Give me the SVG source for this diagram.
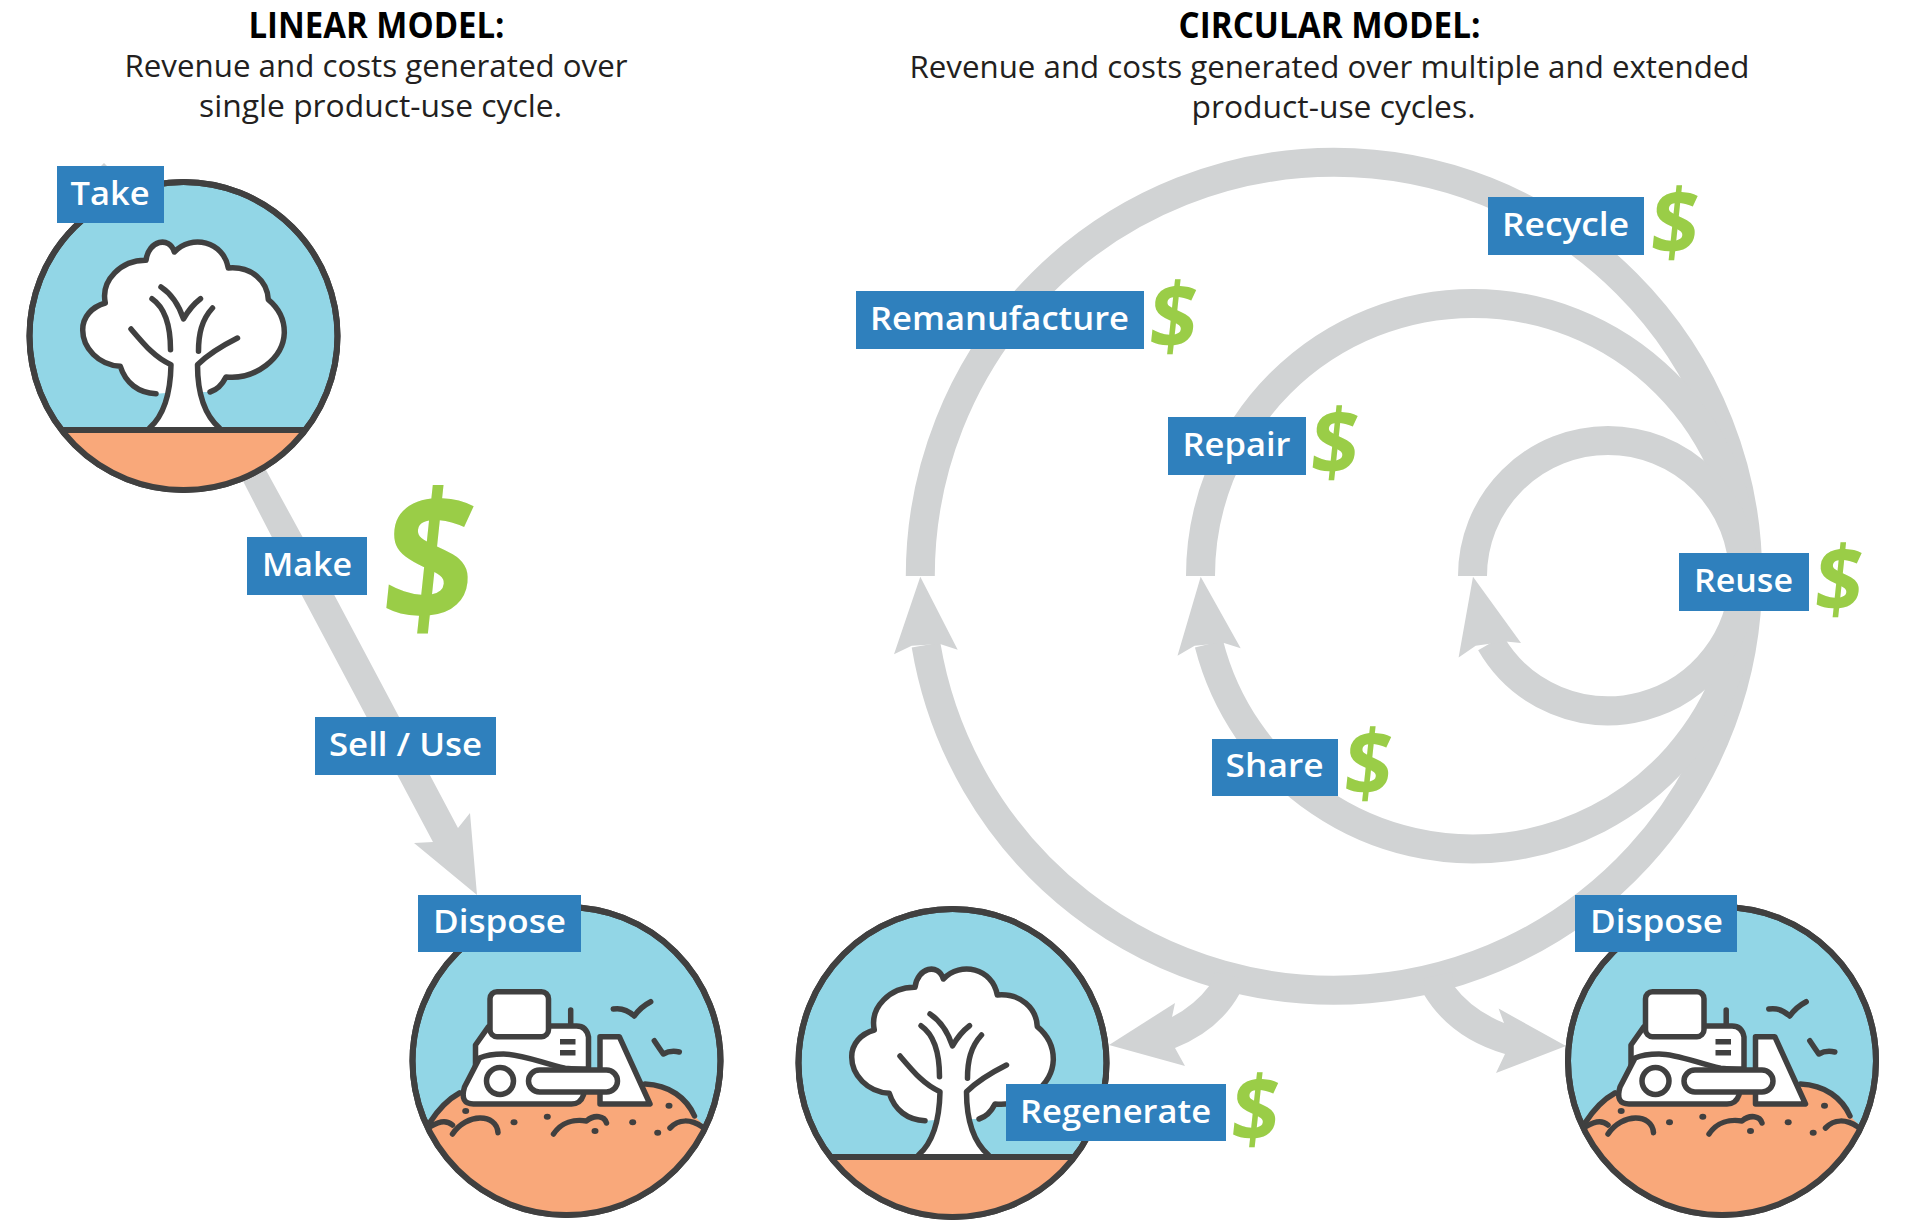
<svg xmlns="http://www.w3.org/2000/svg" xmlns:xlink="http://www.w3.org/1999/xlink" width="1920" height="1223" viewBox="0 0 1920 1223">
<style>
text{font-family:"Open Sans","Noto Sans","Liberation Sans",sans-serif}
.title{font-size:35px;font-weight:700;fill:#000;text-anchor:start}
.sub{font-size:31px;font-weight:400;fill:#231f20}
.box{fill:#2f80bd}
.lab{font-size:33px;font-weight:600;fill:#fff}
.usd{font-weight:700;fill:#9acd47;text-anchor:middle}
.usd-s{font-size:92px}
.usd-l{font-size:182px}
.ring{fill:#92d6e6;stroke:#404040;stroke-width:6}
.ln{fill:none;stroke:#404040;stroke-width:5.5;stroke-linecap:round;stroke-linejoin:round}
.wf{fill:#fff;stroke:#404040;stroke-width:5.5;stroke-linejoin:round;stroke-linecap:round}
.soil{fill:#f9a87a}
.dk{fill:#404040}
.arc{fill:none;stroke:#d1d3d4;stroke-width:29}
.hd{fill:#d1d3d4}
</style>
<defs>
<clipPath id="cc"><circle r="154"/></clipPath>
<g id="tree">
<circle class="ring" r="154"/>
<path class="soil" clip-path="url(#cc)" d="M-160 94H160V170H-160Z"/>
<path fill="#fff" d="M-27.5 57.7C-45 57-58 47-63.2 30.3C-85 29-101 12-100.8-6.3C-100.8-19-92-29-78.2-33C-83-56-62-76-37.5-75.7C-35-96-14-100-9.200-84C8-102 40-95 44.8-68C68-70 84-55 84.8-36.3C96-27 101-15 100.8-3C100 22 72 44 42.5 41C38 50 33 54 26.5 56L17 56Q22 80 36 92H-34Q-21 78-17.5 57Z"/>
<path class="ln" d="M-27.5 57.7C-45 57-58 47-63.2 30.3C-85 29-101 12-100.8-6.3C-100.8-19-92-29-78.2-33C-83-56-62-76-37.5-75.7C-35-96-14-100-9.2-84C8-102 40-95 44.8-68C68-70 84-55 84.8-36.3C96-27 101-15 100.8-3C100 22 72 44 42.500 41C38 50 33 54 26.5 56"/>
<path class="ln" d="M-52.5-7C-38 10-28 22-12.5 28.7C-13 55-18 78-34 92M54 2C38 10 25 18 14 28.7C14 55 20 78 36 92M-31.5-37.3C-18-28-13-8-13 13.7M29-28C18-16 15-2 15 15.3M-22.5-49C-12-42-5-32 0-17C5-26 10-32 17-37.3"/>
<path d="M-122 94H122" fill="none" stroke="#404040" stroke-width="6"/>
<circle r="154" fill="none" stroke="#404040" stroke-width="6"/>
</g>
<g id="dozer">
<circle class="ring" r="154"/>
<path class="soil" clip-path="url(#cc)" d="M-145 70C-133 50-120 38-107 32L78.5 23C103 24 120 37 128 55L145 72V170H-145Z"/>
<path class="ln" d="M-137 62C-128 48-118 38-107 32M78.5 23C103 24 120 37 128 55"/>
<path class="wf" d="M33.5-24.3H52.8L83.500 43H33.5Z"/>
<path class="ln" d="M4.2-51V-36"/>
<path class="wf" d="M-78-34.3L-91-16V8H22V-24Q20-35 10-35H-18Z"/>
<rect class="wf" x="-76.5" y="-69.3" width="58.5" height="45" rx="7"/>
<rect class="dk" x="-6.5" y="-22" width="15.5" height="5.5"/>
<rect class="dk" x="-6.5" y="-11" width="15.5" height="5.5"/>
<path class="wf" d="M-1.5 7.3C-25 2-45-7-63-7Q-78-7-87-3L-102 26Q-107 43-93 43H5Q14 43 17 34L20 9Z"/>
<circle class="wf" cx="-66.5" cy="20" r="13.5"/>
<rect class="wf" x="-38" y="9" width="89" height="22" rx="11"/>
<path class="ln" d="M-135 65Q-122 57-114 64M-114 73C-100 52-70 52-68.5 71.7M-13 73C-5 61 8 58 20 60C28 53 38 55 40 62M103.500 67C112 58 124 58 136 66"/>
<g class="dk"><ellipse cx="-100.8" cy="50" rx="3.5" ry="3"/><ellipse cx="-52.5" cy="61.3" rx="3.5" ry="3"/><ellipse cx="-19.2" cy="55.7" rx="3.5" ry="3"/><ellipse cx="28.5" cy="70" rx="3.5" ry="3"/><ellipse cx="66.2" cy="61.3" rx="3.5" ry="3"/><ellipse cx="91.2" cy="71.7" rx="3.5" ry="3"/><ellipse cx="102.5" cy="44.7" rx="3.5" ry="3"/></g>
<path class="ln" d="M46.8-52Q58-54 67.8-45Q74-54 84.2-59.3M87.8-20.3Q92-14 96.8-7Q104-11 112.8-9"/>
<circle r="154" fill="none" stroke="#404040" stroke-width="6"/>
</g>
</defs>

<g id="connectors">
<polygon class="hd" points="101,166 104,163 107,166"/>
<polygon class="hd" points="227,450 255,450 334.3,595 458,828 470,813 477,895 414,843 433,842 301.7,595"/>
<path class="arc" d="M920.3 576A413.7 413.7 0 0 1 1747.7 576"/>
<path class="arc" d="M1200.5 576A272.5 272.5 0 0 1 1745.5 576"/>
<path class="arc" d="M1472.500 576A135.5 135.5 0 0 1 1743.5 576"/>
<path class="arc" d="M1747.7 576A413.7 413.7 0 0 1 926 645"/>
<path class="arc" d="M1745.5 576A272.5 272.5 0 0 1 1209 644"/>
<path class="arc" d="M1743.5 576A135.5 135.5 0 0 1 1490.7 643"/>
<polygon class="hd" points="920.3,576.7 957.7,649.7 940,644 911.7,645.7 894,654.3"/>
<polygon class="hd" points="1200.7,576.7 1240.7,648.3 1224,643 1194.6,645.7 1177.5,655.7"/>
<polygon class="hd" points="1473,576.7 1521,643 1505.7,641.4 1475.7,645.7 1458.6,657.5"/>
<path class="hd" d="M1210 985L1215 972L1240 978L1240 993Q1220 1030 1175 1048L1185 1066L1109 1045L1175 1003L1172 1017Q1195 1005 1210 985Z"/>
<path class="hd" d="M1454 986L1452 972L1425 978L1423.6 994Q1450 1038 1505 1054L1496 1073L1566 1046L1498.6 1008.600L1504 1023Q1472 1010 1454 986Z"/>
</g>

<g id="title-linear">
<text class="title" x="248.5" y="38" textLength="256" lengthAdjust="spacingAndGlyphs">LINEAR MODEL:</text>
<text class="sub" x="124.5" y="77" textLength="503" lengthAdjust="spacingAndGlyphs">Revenue and costs generated over</text>
<text class="sub" x="199" y="117" textLength="363" lengthAdjust="spacingAndGlyphs">single product-use cycle.</text>
</g>
<g id="title-circular">
<text class="title" x="1178.5" y="38" textLength="302" lengthAdjust="spacingAndGlyphs">CIRCULAR MODEL:</text>
<text class="sub" x="909.5" y="78" textLength="840" lengthAdjust="spacingAndGlyphs">Revenue and costs generated over multiple and extended</text>
<text class="sub" x="1191.5" y="118" textLength="284" lengthAdjust="spacingAndGlyphs">product-use cycles.</text>
</g>

<g id="node-take"><use xlink:href="#tree" href="#tree" x="183.5" y="336"/><rect class="box" x="57" y="166" width="107" height="57"/><text class="lab" x="70.5" y="205" textLength="79" lengthAdjust="spacingAndGlyphs">Take</text></g>
<g id="node-make"><rect class="box" x="247" y="537" width="120" height="58"/><text class="lab" x="262" y="576" textLength="90" lengthAdjust="spacingAndGlyphs">Make</text><text class="usd usd-l" transform="translate(423.5 623) skewX(-6) scale(.88 1)">$</text></g>
<g id="node-sell-use"><rect class="box" x="315" y="717" width="181" height="58"/><text class="lab" x="329" y="756" textLength="153" lengthAdjust="spacingAndGlyphs">Sell / Use</text></g>
<g id="node-dispose-linear"><use xlink:href="#dozer" href="#dozer" x="566.5" y="1061"/><rect class="box" x="418" y="895" width="163" height="57"/><text class="lab" x="433" y="933" textLength="133" lengthAdjust="spacingAndGlyphs">Dispose</text></g>

<g id="node-recycle"><rect class="box" x="1488" y="197" width="156" height="58"/><text class="lab" x="1502" y="236" textLength="127" lengthAdjust="spacingAndGlyphs">Recycle</text><text class="usd usd-s" transform="translate(1672 254.5) skewX(-6) scale(.9 1)">$</text></g>
<g id="node-remanufacture"><rect class="box" x="856" y="291" width="288" height="58"/><text class="lab" x="870" y="330" textLength="259" lengthAdjust="spacingAndGlyphs">Remanufacture</text><text class="usd usd-s" transform="translate(1170.5 348.5) skewX(-6) scale(.9 1)">$</text></g>
<g id="node-repair"><rect class="box" x="1168" y="417" width="138" height="58"/><text class="lab" x="1182.500" y="456" textLength="108" lengthAdjust="spacingAndGlyphs">Repair</text><text class="usd usd-s" transform="translate(1332 474.5) skewX(-6) scale(.9 1)">$</text></g>
<g id="node-reuse"><rect class="box" x="1679" y="553" width="130" height="58"/><text class="lab" x="1694" y="592" textLength="99" lengthAdjust="spacingAndGlyphs">Reuse</text><text class="usd usd-s" transform="translate(1836 611.5) skewX(-6) scale(.9 1)">$</text></g>
<g id="node-share"><rect class="box" x="1212" y="739" width="126" height="57"/><text class="lab" x="1225.5" y="777" textLength="98" lengthAdjust="spacingAndGlyphs">Share</text><text class="usd usd-s" transform="translate(1365.5 795.5) skewX(-6) scale(.9 1)">$</text></g>
<g id="node-regenerate"><use xlink:href="#tree" href="#tree" x="952.5" y="1063"/><rect class="box" x="1006" y="1084" width="220" height="57"/><text class="lab" x="1020" y="1123" textLength="191" lengthAdjust="spacingAndGlyphs">Regenerate</text><text class="usd usd-s" transform="translate(1252.500 1141.5) skewX(-6) scale(.9 1)">$</text></g>
<g id="node-dispose-circular"><use xlink:href="#dozer" href="#dozer" x="1722" y="1061"/><rect class="box" x="1575" y="895" width="162" height="57"/><text class="lab" x="1590" y="933" textLength="133" lengthAdjust="spacingAndGlyphs">Dispose</text></g>
</svg>
